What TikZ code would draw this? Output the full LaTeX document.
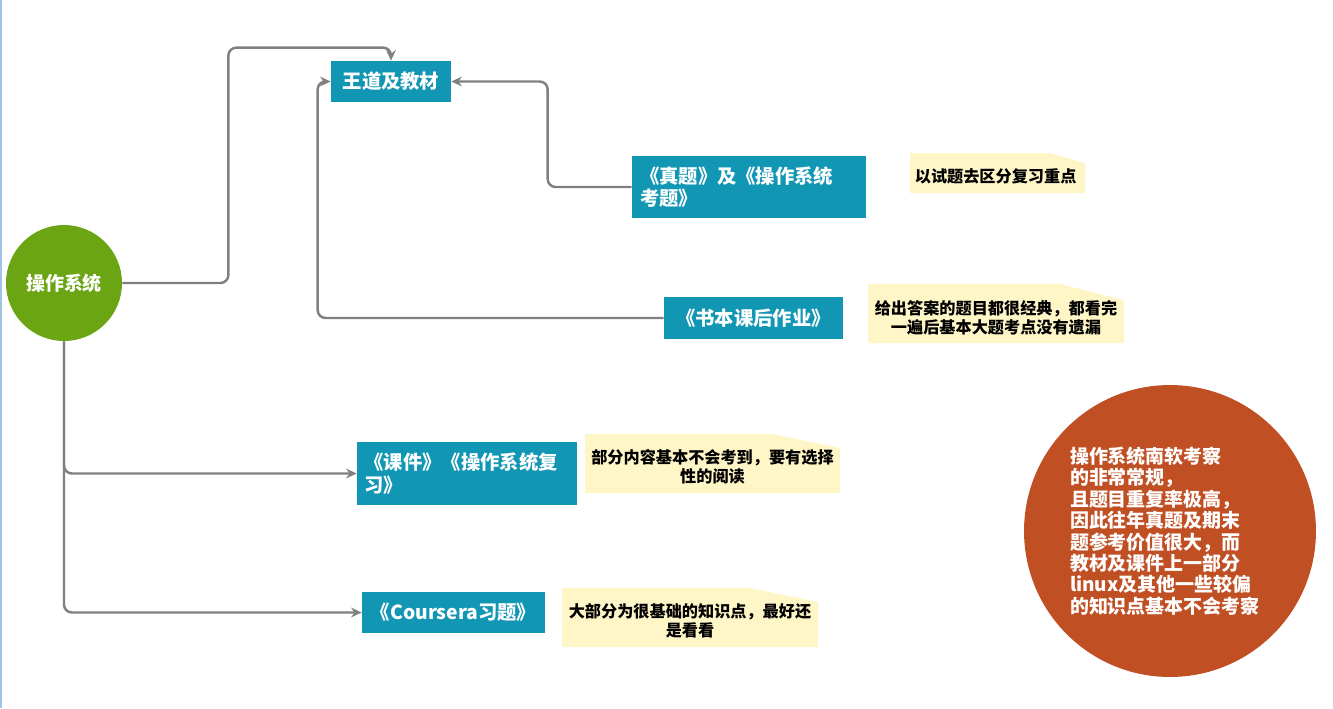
\documentclass[tikz,border=0pt]{standalone}
\usepackage{fontspec}
\setmainfont{Noto Sans CJK SC}
\usetikzlibrary{arrows.meta}

\definecolor{osgreen}{RGB}{107,165,20}
\definecolor{boxteal}{RGB}{17,150,180}
\definecolor{noteyel}{RGB}{255,246,200}
\definecolor{tiporange}{RGB}{192,80,36}
\definecolor{linkgray}{RGB}{128,128,128}
\definecolor{edgeblue}{RGB}{160,195,230}

\tikzset{
  topic/.style={fill=boxteal, text=white, font=\bfseries\fontsize{11}{12.6}\selectfont,
    inner sep=0pt},
  note/.style={font=\bfseries\fontsize{9.2}{10.6}\selectfont, align=center, inner sep=0pt},
  link/.style={draw=linkgray, line width=1.4pt, rounded corners=4.5pt,
    -{Stealth[length=6pt,width=5.5pt]}}
}

\begin{document}
\begin{tikzpicture}[x=0.02cm,y=-0.02cm]
  \useasboundingbox[fill=white] (0,0) rectangle (1333,708);
  \draw[edgeblue, line width=1pt] (1,0) -- (1,708);

  \node[circle, fill=osgreen, text=white, minimum size=2.32cm, inner sep=0pt,
    font=\bfseries\fontsize{10.8}{12.4}\selectfont] (os) at (64,283) { 操作系统 };

  \node[topic, minimum width=2.4cm, minimum height=0.82cm] (wd) at (391,81.5) { 王道及教材 };
  \node[topic, minimum width=4.68cm, minimum height=1.24cm, text width=4.36cm, align=left]
    (zt) at (749,187) { 《真题》及《操作系统\\考题》 };
  \node[topic, minimum width=3.58cm, minimum height=0.84cm] (sb) at (753.5,318) { 《书本课后作业》 };
  \node[topic, minimum width=4.4cm, minimum height=1.26cm, text width=4.1cm, align=left]
    (kj) at (467,473.5) { 《课件》《操作系统复\\习》 };
  \node[topic, minimum width=3.66cm, minimum height=0.82cm] (cs) at (453.5,612.5) { 《Coursera习题》 };

  % notes
  \fill[noteyel] (910,153) -- (1050,153) -- (1085,163) -- (1085,193) -- (910,193) -- cycle;
  \node[note] (n1) at (997.5,176) { 以试题去区分复习重点 };
  \fill[noteyel] (868,284) -- (1060,284) -- (1124,300) -- (1124,343) -- (868,343) -- cycle;
  \node[note] (n2) at (996,318) { 给出答案的题目都很经典，都看完\\一遍后基本大题考点没有遗漏 };
  \fill[noteyel] (585,434) -- (773,434) -- (840,448) -- (840,493) -- (585,493) -- cycle;
  \node[note] (n3) at (712.5,467) { 部分内容基本不会考到，要有选择\\性的阅读 };
  \fill[noteyel] (562,588) -- (750,588) -- (818,602) -- (818,647) -- (562,647) -- cycle;
  \node[note] (n4) at (690,621) { 大部分为很基础的知识点，最好还\\是看看 };

  \node[circle, fill=tiporange, text=white, minimum size=5.84cm, inner sep=0pt,
    text width=4.0cm, align=left, font=\bfseries\fontsize{10.8}{12.2}\selectfont]
    (tip) at (1170,531) { 操作系统南软考察\\的非常常规，\\且题目重复率极高，\\因此往年真题及期末\\题参考价值很大，而\\教材及课件上一部分\\linux及其他一些较偏\\的知识点基本不会考察 };

  \draw[link] (os.east) -- ++(106,0) |- ([yshift=0.26cm]wd.north) -- (wd.north);
  \draw[link] (zt.west) -- ++(-84,0) |- (wd.east);
  \draw[link] (sb.west) -| ([xshift=-0.26cm]wd.west) -- (wd.west);
  \draw[link] (os.south) |- (kj.west);
  \draw[link] (os.south) |- (cs.west);
\end{tikzpicture}
\end{document}
